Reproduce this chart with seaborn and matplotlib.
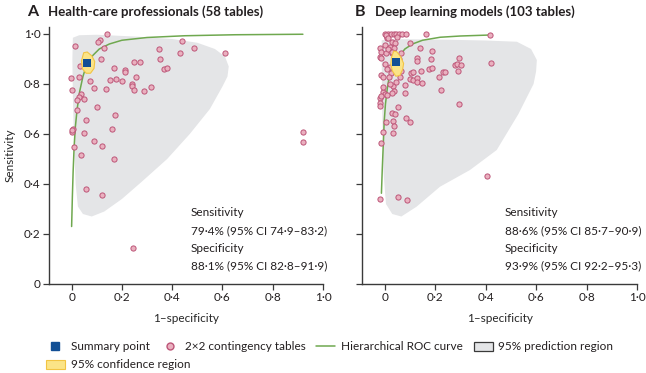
import numpy as np
import pandas as pd
import seaborn as sns
import matplotlib.pyplot as plt
from matplotlib.lines import Line2D
from matplotlib.patches import Patch
from matplotlib.ticker import FuncFormatter

# values (x = 1-specificity, y = sensitivity)

# panel A - health-care professionals
hcp_fpr = [0.14, 0.013, 0.111, 0.105, 0.13, 0.115, 0.033, -0.003, 0.028, 0.0, 0.074, 0.089,
           0.036, 0.031, 0.02, 0.049, 0.023, 0.099, 0.057, 0.172, 0.004, 0.0, 0.048, 0.162,
           0.009, 0.09, 0.119, 0.037, 0.167, 0.168, 0.211, 0.211, 0.248, 0.272, 0.256, 0.152,
           0.175, 0.2, 0.138, 0.239, 0.239, 0.25, 0.286, 0.315, 0.347, 0.351, 0.368, 0.378,
           0.44, 0.432, 0.488, 0.612, 0.92, 0.92, 0.056, 0.119, 0.243, 0.003]
hcp_sens = [1.0, 0.952, 0.975, 0.97, 0.945, 0.90, 0.871, 0.825, 0.829, 0.777, 0.813, 0.783,
            0.759, 0.749, 0.736, 0.74, 0.697, 0.707, 0.656, 0.676, 0.621, 0.608, 0.604, 0.62,
            0.549, 0.572, 0.553, 0.516, 0.50, 0.863, 0.857, 0.850, 0.888, 0.888, 0.828, 0.815,
            0.819, 0.813, 0.781, 0.80, 0.793, 0.776, 0.772, 0.788, 0.941, 0.901, 0.859, 0.865,
            0.972, 0.923, 0.944, 0.923, 0.608, 0.569, 0.38, 0.356, 0.143, 0.615]
hcp_summary = (0.062, 0.885)
hcp_curve_fpr = [0.0, 0.003, 0.006, 0.01, 0.015, 0.022, 0.032, 0.045, 0.062, 0.085, 0.11,
                 0.15, 0.2, 0.3, 0.45, 0.65, 0.92]
hcp_curve_sens = [0.23, 0.35, 0.45, 0.55, 0.63, 0.70, 0.77, 0.83, 0.885, 0.915, 0.94,
                  0.96, 0.975, 0.986, 0.993, 0.997, 0.999]
hcp_pred_fpr = [0.005, 0.03, 0.1, 0.25, 0.4, 0.5, 0.57, 0.61, 0.625, 0.62, 0.6, 0.55, 0.47,
                0.38, 0.28, 0.2, 0.13, 0.08, 0.045, 0.025, 0.016, 0.01, 0.005, 0.003]
hcp_pred_sens = [0.985, 0.995, 0.997, 0.99, 0.98, 0.965, 0.94, 0.91, 0.87, 0.83, 0.79, 0.70,
                 0.60, 0.50, 0.41, 0.34, 0.29, 0.27, 0.28, 0.31, 0.40, 0.55, 0.75, 0.90]
hcp_conf_fpr = [0.048, 0.062, 0.08, 0.092, 0.089, 0.075, 0.058, 0.043, 0.039]
hcp_conf_sens = [0.925, 0.928, 0.913, 0.89, 0.862, 0.843, 0.843, 0.86, 0.892]

# panel B - deep learning models
dl_fpr = [0.001, 0.012, 0.023, 0.036, 0.046, 0.057, 0.07, 0.084, 0.008, 0.163, 0.419, 0.423,
          0.009, 0.027, 0.04, 0.0, -0.02, 0.02, 0.037, -0.013, 0.004, 0.028, 0.066, -0.02,
          -0.013, 0.099, 0.139, 0.187, 0.127, 0.129, 0.182, 0.296, 0.278, 0.288, 0.302, 0.29,
          0.0, 0.02, 0.066, 0.174, 0.187, 0.145, 0.232, 0.24, 0.105, 0.113, 0.024, -0.013,
          -0.007, 0.017, 0.216, 0.099, 0.113, 0.129, 0.129, 0.146, 0.081, 0.031, 0.036, 0.225,
          0.082, 0.028, -0.007, 0.0, 0.009, -0.02, -0.013, -0.02, -0.02, 0.296, 0.053, 0.027,
          0.04, 0.004, 0.086, 0.102, 0.033, 0.037, -0.007, 0.033, -0.013, 0.407, -0.02, 0.052,
          0.089, 0.005, 0.015, 0.05, 0.012, 0.03, 0.055, 0.05, 0.01, 0.06, -0.005, 0.02, 0.045]
dl_sens = [1.0, 1.0, 1.0, 1.0, 1.0, 1.0, 1.0, 1.0, 0.99, 1.0, 0.996, 0.884,
           0.983, 0.969, 0.963, 0.956, 0.945, 0.949, 0.943, 0.929, 0.925, 0.923, 0.925, 0.909,
           0.903, 0.963, 0.943, 0.933, 0.905, 0.892, 0.901, 0.903, 0.875, 0.879, 0.875, 0.853,
           0.879, 0.869, 0.852, 0.859, 0.864, 0.852, 0.847, 0.85, 0.843, 0.847, 0.845, 0.836,
           0.829, 0.827, 0.827, 0.819, 0.816, 0.825, 0.809, 0.803, 0.797, 0.792, 0.773, 0.776,
           0.765, 0.763, 0.769, 0.76, 0.756, 0.745, 0.752, 0.723, 0.712, 0.719, 0.707, 0.685,
           0.679, 0.648, 0.663, 0.648, 0.653, 0.632, 0.607, 0.603, 0.565, 0.432, 0.341, 0.348,
           0.336, 0.995, 0.985, 0.99, 0.94, 0.93, 0.9, 0.86, 0.86, 0.83, 0.79, 0.80, 0.81]
dl_summary = (0.044, 0.887)
dl_curve_fpr = [-0.013, -0.01, -0.006, -0.002, 0.003, 0.01, 0.018, 0.03, 0.044, 0.06, 0.08,
                0.11, 0.15, 0.22, 0.3, 0.419]
dl_curve_sens = [0.363, 0.45, 0.55, 0.65, 0.72, 0.78, 0.83, 0.865, 0.887, 0.915, 0.94,
                 0.96, 0.975, 0.987, 0.992, 0.996]
dl_pred_fpr = [-0.012, 0.02, 0.086, 0.25, 0.4, 0.524, 0.58, 0.603, 0.6, 0.59, 0.53, 0.444,
               0.338, 0.219, 0.126, 0.066, 0.03, 0.005, -0.005, -0.01, -0.012]
dl_pred_sens = [0.975, 0.979, 0.979, 0.977, 0.974, 0.969, 0.94, 0.896, 0.85, 0.80, 0.68, 0.536,
                0.456, 0.389, 0.309, 0.27, 0.28, 0.32, 0.45, 0.7, 0.9]
dl_conf_fpr = [0.036, 0.048, 0.064, 0.075, 0.071, 0.06, 0.044, 0.03, 0.024, 0.027]
dl_conf_sens = [0.932, 0.929, 0.908, 0.882, 0.858, 0.834, 0.831, 0.853, 0.88, 0.907]

titles = ["Health-care professionals (58 tables)", "Deep learning models (103 tables)"]
panel_letters = ["A", "B"]
stat_lines = [["Sensitivity", "79·4% (95% CI 74·9–83·2)", "Specificity", "88·1% (95% CI 82·8–91·9)"],
              ["Sensitivity", "88·6% (95% CI 85·7–90·9)", "Specificity", "93·9% (95% CI 92·2–95·3)"]]
x_ticks = [0, 0.2, 0.4, 0.6, 0.8, 1.0]
y_ticks = [0, 0.2, 0.4, 0.6, 0.8, 1.0]

# colours
pink = "#eab0bf"
pink_edge = "#bd5578"
grey = "#e4e5e7"
green = "#6fa84f"
blue = "#124f95"
yellow = "#fbe487"
yellow_edge = "#f2c443"
spine = "#3a3a3a"

sns.set_style("ticks")
plt.rcParams['font.family'] = ['Lato', 'DejaVu Sans']
plt.rcParams['text.color'] = "#231f20"


def dot_fmt(v, pos):
    if abs(v) < 1e-9:
        return "0"
    return f"{v:.1f}".replace(".", "·")


fig = plt.figure(figsize=(6.46, 3.73), dpi=100)
ax_a = fig.add_axes([49 / 646, 1 - 284 / 373, 274 / 646, 257 / 373])
ax_b = fig.add_axes([362 / 646, 1 - 284 / 373, 275 / 646, 257 / 373])

panels = [
    (ax_a, hcp_fpr, hcp_sens, hcp_summary, hcp_curve_fpr, hcp_curve_sens,
     hcp_pred_fpr, hcp_pred_sens, hcp_conf_fpr, hcp_conf_sens),
    (ax_b, dl_fpr, dl_sens, dl_summary, dl_curve_fpr, dl_curve_sens,
     dl_pred_fpr, dl_pred_sens, dl_conf_fpr, dl_conf_sens),
]

for i, (ax, fx, sy, summ, cx, cy, px, py, qx, qy) in enumerate(panels):
    ax.fill(px, py, color=grey, lw=0, zorder=1)
    sns.lineplot(x=cx, y=cy, ax=ax, color=green, lw=1.1, sort=False, zorder=2)
    sns.scatterplot(x=fx, y=sy, ax=ax, s=14, color=pink, edgecolor=pink_edge,
                    linewidth=0.7, zorder=3)
    ax.fill(qx, qy, color=yellow, ec=yellow_edge, lw=0.8, zorder=4)
    sns.scatterplot(x=[summ[0]], y=[summ[1]], ax=ax, marker="s", s=32, color=blue,
                    edgecolor=blue, linewidth=0, zorder=5)

    ax.set_xlim(-0.09, 1.0)
    ax.set_ylim(0, 1.028)
    ax.set_xticks(x_ticks)
    ax.set_yticks(y_ticks)
    ax.xaxis.set_major_formatter(FuncFormatter(dot_fmt))
    ax.yaxis.set_major_formatter(FuncFormatter(dot_fmt))
    ax.tick_params(direction="out", length=4, width=0.9, color=spine, labelsize=8.5,
                   labelcolor="#231f20", pad=2)
    for side in ["top", "right"]:
        ax.spines[side].set_visible(False)
    for side in ["left", "bottom"]:
        ax.spines[side].set_color(spine)
        ax.spines[side].set_linewidth(1.0)
    ax.set_xlabel("1–specificity", fontsize=8.5, labelpad=7)
    if i == 0:
        ax.set_ylabel("Sensitivity", fontsize=8.5, labelpad=6)
    else:
        ax.set_ylabel("")
        ax.tick_params(axis="y", labelleft=False)

    for k, line in enumerate(stat_lines[i]):
        ax.text(0.475, 0.284 - k * 0.07, line, fontsize=8.5, va="center", ha="left",
                transform=ax.transData)

# panel titles
fig.text(27 / 646, 1 - 12 / 373, "A", fontsize=11.5, fontweight="bold", va="center")
fig.text(48 / 646, 1 - 12 / 373, titles[0], fontsize=9.5, fontweight="bold", va="center")
fig.text(355 / 646, 1 - 12 / 373, "B", fontsize=11.5, fontweight="bold", va="center")
fig.text(375 / 646, 1 - 12 / 373, titles[1], fontsize=9.5, fontweight="bold", va="center")

# legend
row1 = [
    Line2D([], [], marker="s", ls="", color=blue, markersize=5.5),
    Line2D([], [], marker="o", ls="", color=pink, markeredgecolor=pink_edge, markersize=5),
    Line2D([], [], color=green, lw=1.1),
    Patch(facecolor=grey, edgecolor=spine, lw=0.9),
]
row1_labels = ["Summary point", "2×2 contingency tables", "Hierarchical ROC curve",
               "95% prediction region"]
leg1 = fig.legend(row1, row1_labels, ncol=4, loc="center left",
                  bbox_to_anchor=(40 / 646, 1 - 347 / 373), frameon=False, fontsize=8.5,
                  handlelength=1.6, handletextpad=0.5, columnspacing=0.9, borderpad=0)
fig.legend([Patch(facecolor=yellow, edgecolor=yellow_edge, lw=0.8)], ["95% confidence region"],
           loc="center left", bbox_to_anchor=(40 / 646, 1 - 365 / 373), frameon=False,
           fontsize=8.5, handlelength=1.6, handletextpad=0.5, borderpad=0)

fig.savefig("out.png", dpi=100)
